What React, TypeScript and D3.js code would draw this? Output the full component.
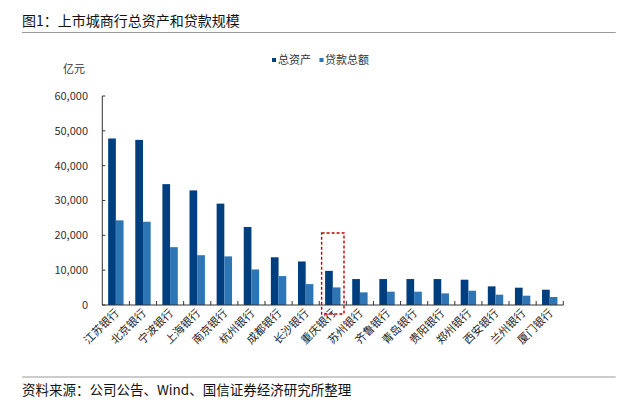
import React from "react";
import * as d3 from "d3";

const categories = ["江苏银行","北京银行","宁波银行","上海银行","南京银行","杭州银行","成都银行","长沙银行","重庆银行","苏州银行","齐鲁银行","青岛银行","贵阳银行","郑州银行","西安银行","兰州银行","厦门银行"];
const totalAssets = [47800,47400,34700,32900,29100,22400,13700,12500,9800,7450,7450,7450,7450,7260,5350,4970,4390];
const totalLoans = [24300,23900,16600,14300,13950,10200,8300,6000,5050,3630,3820,3820,3340,4110,2960,2670,2290];
const yTicks = [0,10000,20000,30000,40000,50000,60000];
const seriesNames = ["总资产","贷款总额"];
const highlight = "重庆银行";

const W = 642, H = 401;
const DARK = "#003F7F", LIGHT = "#2E75B6";
const FONT = "'Noto Sans CJK SC', 'Noto Sans', sans-serif";

export default function App() {
  const x0 = 102.3, x1 = 563.3, yTop = 96, yBot = 305;
  const x = d3.scaleBand<string>().domain(categories).range([x0, x1]).paddingInner(0).paddingOuter(0);
  const y = d3.scaleLinear().domain([0, 60000]).range([yBot, yTop]);
  const bw = x.bandwidth();
  const barW = 7.7;
  const off = (bw - 2 * barW) / 2;
  const fmt = d3.format(",");
  const hx = x(highlight)!;

  return (
    <svg width={W} height={H} style={{ position: "absolute", left: 0, top: 0, background: "#fff" }} fontFamily={FONT}>
      <text x={22} y={26} fontSize={14} fill="#111">图1：上市城商行总资产和贷款规模</text>
      <line x1={22} x2={615.7} y1={32.5} y2={32.5} stroke="#999" strokeWidth={1.2} />

      <text x={63} y={73} fontSize={11} fill="#333">亿元</text>

      {/* legend */}
      <rect x={272} y={58} width={4} height={4} fill={DARK} />
      <text x={278} y={60} dy="0.35em" fontSize={11} fill="#333">{seriesNames[0]}</text>
      <rect x={319.5} y={58} width={4} height={4} fill={LIGHT} />
      <text x={325} y={60} dy="0.35em" fontSize={11} fill="#333">{seriesNames[1]}</text>

      {/* bars */}
      {categories.map((c, i) => (
        <g key={c}>
          <rect x={x(c)! + off} y={y(totalAssets[i])} width={barW} height={y(0) - y(totalAssets[i])} fill={DARK} />
          <rect x={x(c)! + off + barW} y={y(totalLoans[i])} width={barW} height={y(0) - y(totalLoans[i])} fill={LIGHT} />
        </g>
      ))}

      {/* y axis */}
      <line x1={x0} x2={x0} y1={yTop} y2={yBot} stroke="#333" strokeWidth={1} />
      {yTicks.map(t => (
        <g key={t}>
          <line x1={x0} x2={x0 + 3} y1={y(t)} y2={y(t)} stroke="#333" />
          <text x={88} y={y(t)} dy="0.35em" textAnchor="end" fontSize={11} fill="#333">{t === 0 ? "0" : fmt(t)}</text>
        </g>
      ))}

      {/* x axis */}
      <line x1={x0} x2={x1} y1={yBot} y2={yBot} stroke="#333" strokeWidth={1} />
      {categories.map((c) => (
        <line key={"t" + c} x1={x(c)! + bw} x2={x(c)! + bw} y1={yBot} y2={yBot - 4} stroke="#333" />
      ))}
      {categories.map(c => {
        const cx = x(c)! + bw / 2 + 1;
        return (
          <text key={"l" + c} transform={`translate(${cx},${311}) rotate(-45)`} textAnchor="end" dy="0.35em" fontSize={11} fill="#222">{c}</text>
        );
      })}

      {/* highlight box */}
      <rect x={hx + off - 3.5} y={233} width={bw - 2 * off + 7} height={81} fill="none" stroke="#C00000" strokeWidth={1.4} strokeDasharray="3,2" />

      <line x1={22} x2={615.7} y1={377} y2={377} stroke="#999" strokeWidth={1.2} />
      <text x={22} y={395} fontSize={13.5} fill="#111">资料来源：公司公告、Wind、国信证券经济研究所整理</text>
    </svg>
  );
}
